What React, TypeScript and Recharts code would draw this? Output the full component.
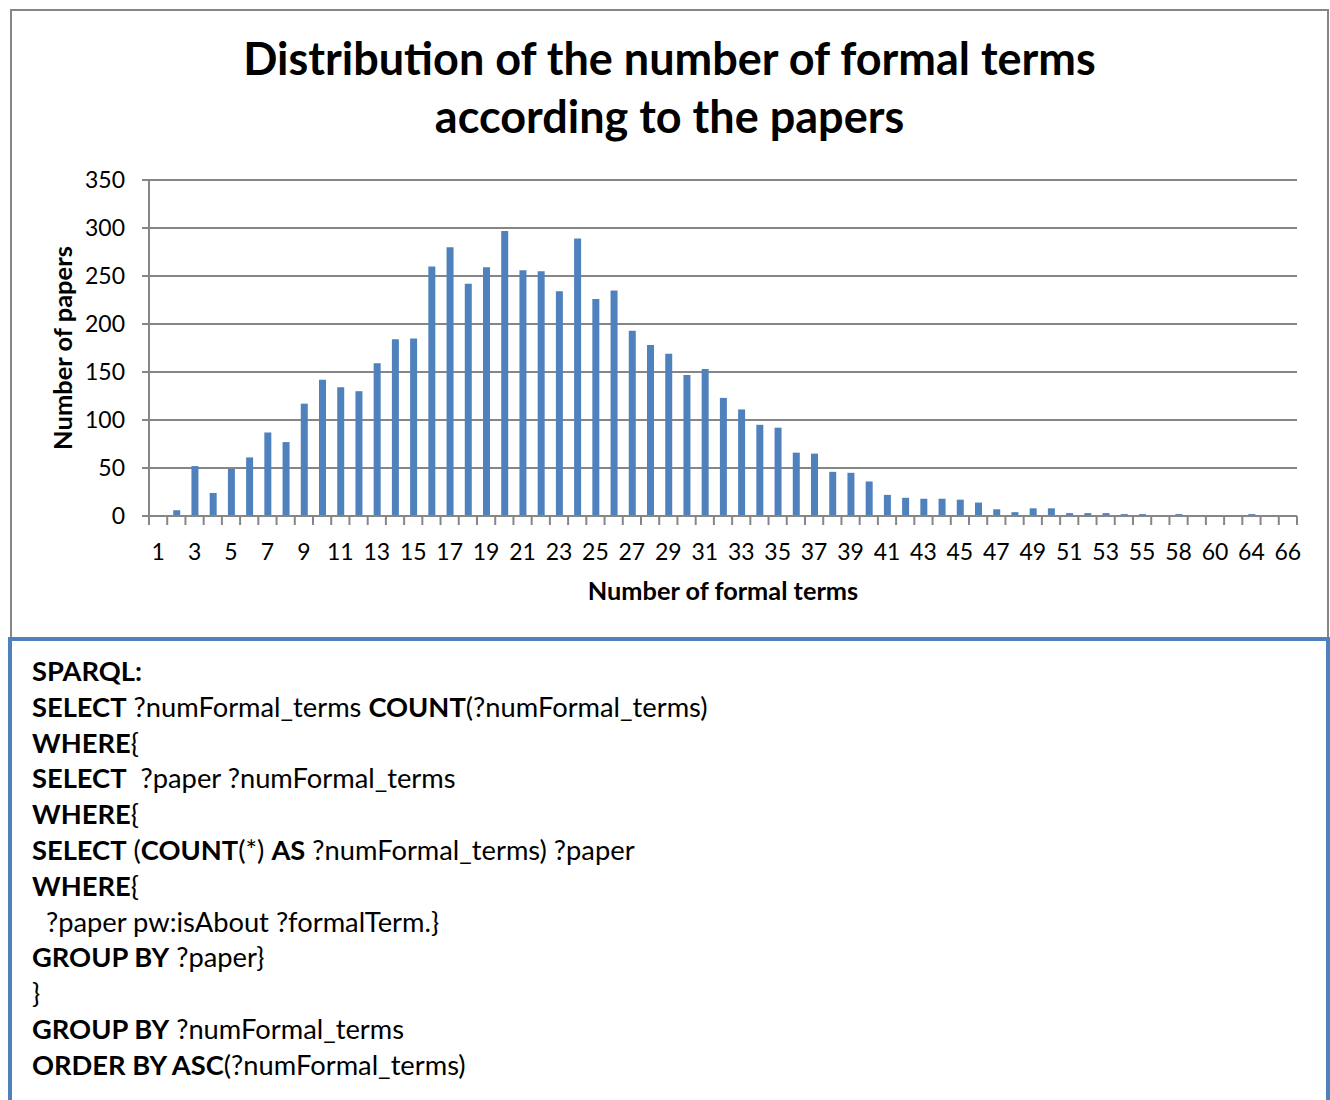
import React from 'react';
import { BarChart, Bar, XAxis, YAxis, CartesianGrid, Label } from 'recharts';

// Number of formal terms attached to a paper (category axis)
const termCounts = [
  1, 2, 3, 4, 5, 6, 7, 8, 9, 10, 11, 12, 13, 14, 15, 16, 17, 18, 19, 20,
  21, 22, 23, 24, 25, 26, 27, 28, 29, 30, 31, 32, 33, 34, 35, 36, 37, 38, 39, 40,
  41, 42, 43, 44, 45, 46, 47, 48, 49, 50, 51, 52, 53, 54, 55, 56, 58, 59, 60, 62,
  64, 65, 66,
];

// Number of papers having that many formal terms
const paperCounts = [
  1, 6, 52, 24, 49, 61, 87, 77, 117, 142, 134, 130, 159, 184, 185, 260, 280, 242, 259, 297,
  256, 255, 234, 289, 226, 235, 193, 178, 169, 147, 153, 123, 111, 95, 92, 66, 65, 46, 45, 36,
  22, 19, 18, 18, 17, 14, 7, 4, 8, 8, 3, 3, 3, 2, 2, 1, 2, 1, 1, 1,
  2, 1, 1,
];

const yTicks = [0, 50, 100, 150, 200, 250, 300, 350];

const titleLines = ['Distribution of the number of formal terms', 'according to the papers'];
const xTitle = 'Number of formal terms';
const yTitle = 'Number of papers';

// Query text: each line is a list of [text, bold] segments
const sparqlLines: [string, boolean][][] = [
  [['SPARQL:', true]],
  [['SELECT', true], [' ?numFormal_terms ', false], ['COUNT', true], ['(?numFormal_terms)', false]],
  [['WHERE', true], ['{', false]],
  [['SELECT', true], ['  ?paper ?numFormal_terms', false]],
  [['WHERE', true], ['{', false]],
  [['SELECT', true], [' (', false], ['COUNT', true], ['(*) ', false], ['AS', true], [' ?numFormal_terms) ?paper', false]],
  [['WHERE', true], ['{', false]],
  [['  ?paper pw:isAbout ?formalTerm.}', false]],
  [['GROUP BY', true], [' ?paper}', false]],
  [['}', false]],
  [['GROUP BY', true], [' ?numFormal_terms', false]],
  [['ORDER BY ASC', true], ['(?numFormal_terms)', false]],
];

const data = termCounts.map((term, i) => ({ term: String(term), papers: paperCounts[i] }));

const FONT = 'Lato, "Open Sans", sans-serif';
const AXIS_GRAY = '#868686';
const BAR_BLUE = '#4f81bd';

const CHART_W = 1330;
const CHART_H = 637;
const MARGIN = { top: 180, right: 33, bottom: 0, left: 0 };
const Y_AXIS_W = 149;
const X_AXIS_H = 121;
const X_TICK_SIZE = 9;
const X_TICK_MARGIN = 19;
const PLOT_W = CHART_W - MARGIN.left - Y_AXIS_W - MARGIN.right;
const PLOT_H = CHART_H - MARGIN.top - MARGIN.bottom - X_AXIS_H;
const BAND = PLOT_W / termCounts.length;

// Tick marks sit between categories; labels on every other category
function CategoryTick(props: any) {
  const { x, y, payload } = props;
  const i: number = props.index ?? payload.index;
  const axisY = y - X_TICK_SIZE - X_TICK_MARGIN;
  const half = BAND / 2;
  return (
    <g>
      <line x1={x - half} x2={x - half} y1={axisY} y2={axisY + X_TICK_SIZE} stroke={AXIS_GRAY} strokeWidth={2} />
      {i === termCounts.length - 1 && (
        <line x1={x + half} x2={x + half} y1={axisY} y2={axisY + X_TICK_SIZE} stroke={AXIS_GRAY} strokeWidth={2} />
      )}
      {i % 2 === 0 && (
        <text x={x} y={y} dy="0.71em" textAnchor="middle" fill="#000" fontSize={23} fontFamily={FONT}>
          {payload.value}
        </text>
      )}
    </g>
  );
}

function YTitle(props: any) {
  const vb = props.viewBox || {};
  const cx = (vb.x ?? 0) + 62;
  const cy = (vb.y ?? MARGIN.top) + (vb.height ?? PLOT_H) / 2;
  return (
    <text
      x={cx}
      y={cy}
      transform={`rotate(-90, ${cx}, ${cy})`}
      textAnchor="middle"
      dominantBaseline="central"
      fontFamily={FONT}
      fontWeight="bold"
      fontSize={25.5}
      fill="#000"
    >
      {yTitle}
    </text>
  );
}

function XTitle(props: any) {
  const vb = props.viewBox || {};
  const cx = (vb.x ?? 0) + (vb.width ?? PLOT_W) / 2;
  const cy = (vb.y ?? 0) + 74;
  return (
    <text x={cx} y={cy} textAnchor="middle" dominantBaseline="central" fontFamily={FONT} fontWeight="bold" fontSize={25.3} fill="#000">
      {xTitle}
    </text>
  );
}

export default function App() {
  return (
    <div style={{ position: 'absolute', left: 0, top: 0, width: 1330, height: 1100, overflow: 'hidden', background: '#fff' }}>
      {/* chart frame */}
      <div
        style={{
          position: 'absolute',
          left: 10,
          top: 9,
          width: 1319,
          height: 640,
          border: `2px solid ${AXIS_GRAY}`,
          boxSizing: 'border-box',
        }}
      />
      <div
        style={{
          position: 'absolute',
          left: 10,
          top: 29,
          width: 1319,
          textAlign: 'center',
          fontFamily: FONT,
          fontWeight: 'bold',
          fontSize: 45,
          lineHeight: '58px',
          color: '#000',
        }}
      >
        {titleLines.map((t) => (
          <div key={t}>{t}</div>
        ))}
      </div>
      <div style={{ position: 'absolute', left: 0, top: 0 }}>
        <BarChart width={CHART_W} height={CHART_H} data={data} margin={MARGIN}>
          <CartesianGrid vertical={false} stroke={AXIS_GRAY} strokeWidth={2} />
          <XAxis
            dataKey="term"
            interval={0}
            height={X_AXIS_H}
            tickSize={X_TICK_SIZE}
            tickMargin={X_TICK_MARGIN}
            tickLine={false}
            axisLine={{ stroke: AXIS_GRAY, strokeWidth: 2 }}
            tick={<CategoryTick />}
          >
            <Label content={<XTitle />} />
          </XAxis>
          <YAxis
            width={Y_AXIS_W}
            domain={[0, 350]}
            ticks={yTicks}
            interval={0}
            tickSize={7}
            tickMargin={17}
            tickLine={{ stroke: AXIS_GRAY, strokeWidth: 2 }}
            axisLine={{ stroke: AXIS_GRAY, strokeWidth: 2 }}
            tick={{ fill: '#000', fontSize: 23, fontFamily: FONT }}
          >
            <Label content={<YTitle />} />
          </YAxis>
          <Bar dataKey="papers" fill={BAR_BLUE} barSize={7} isAnimationActive={false} />
        </BarChart>
      </div>
      {/* query box */}
      <div
        style={{
          position: 'absolute',
          left: 8,
          top: 637,
          width: 1322,
          height: 463,
          border: `4px solid ${BAR_BLUE}`,
          borderBottom: 'none',
          boxSizing: 'border-box',
          background: '#fff',
          padding: '12px 0 0 20px',
          fontFamily: FONT,
          fontSize: 27.3,
          lineHeight: '35.8px',
          color: '#000',
          whiteSpace: 'pre',
        }}
      >
        {sparqlLines.map((segs, li) => (
          <div key={li}>
            {segs.map(([text, bold], si) => (
              <span key={si} style={{ fontWeight: bold ? 'bold' : 'normal' }}>
                {text}
              </span>
            ))}
          </div>
        ))}
      </div>
    </div>
  );
}
